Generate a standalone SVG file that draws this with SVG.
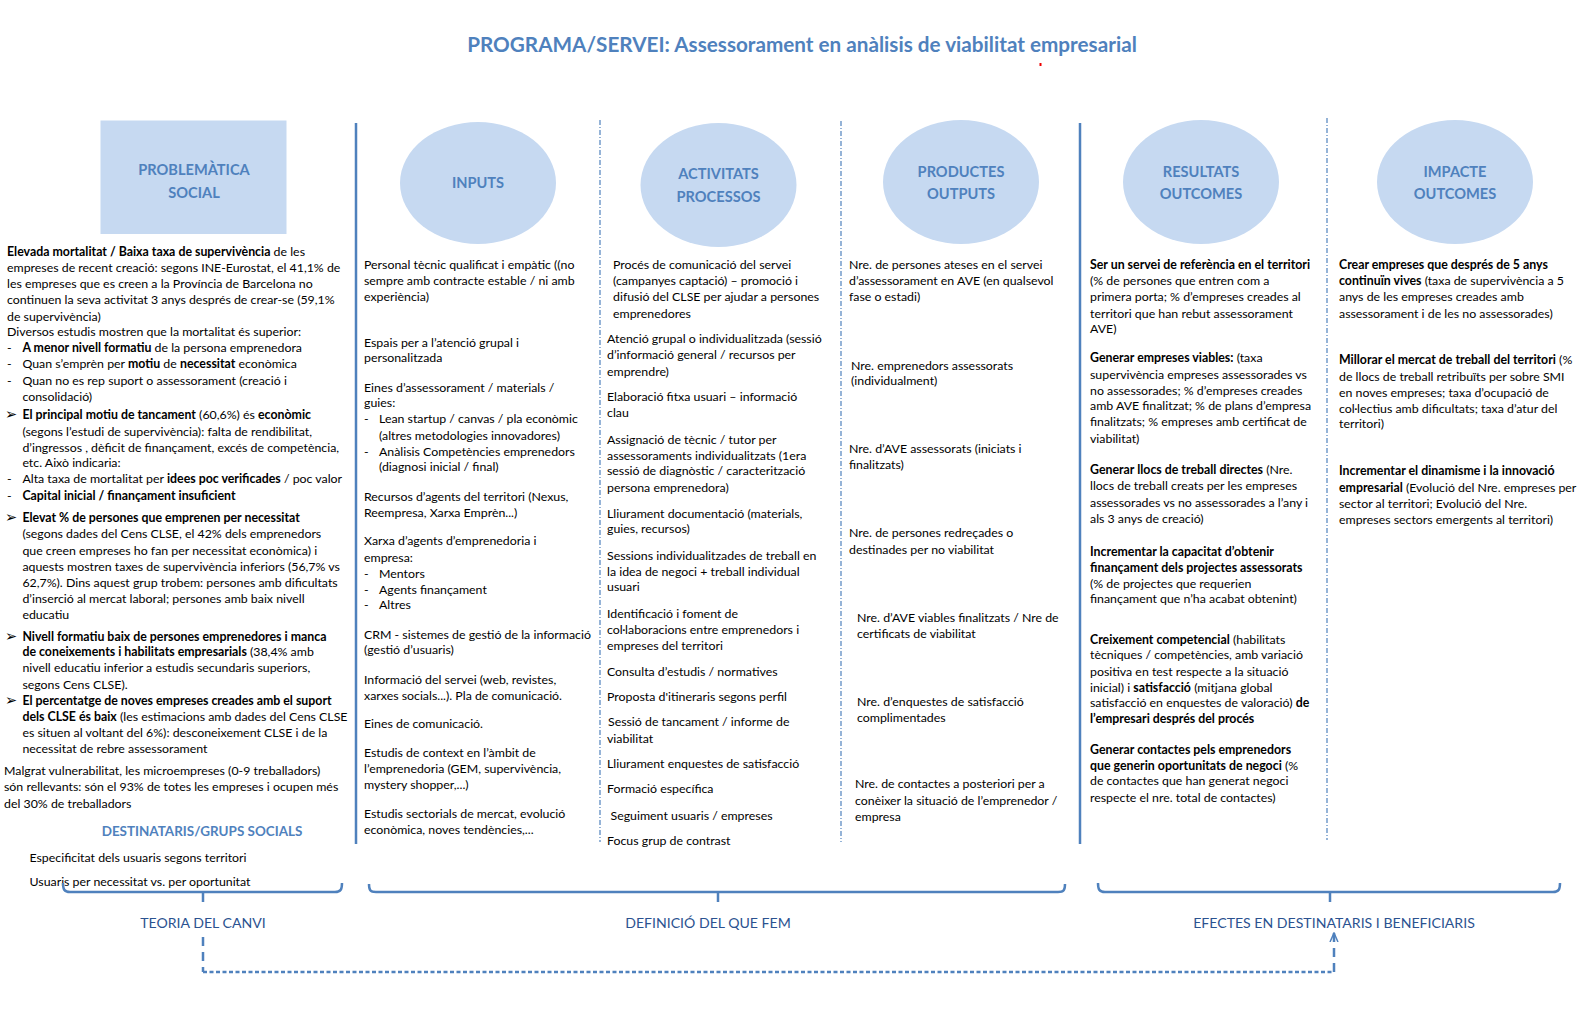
<svg xmlns="http://www.w3.org/2000/svg" width="1594" height="1009" viewBox="0 0 1594 1009">
<style>
.t{font-family:Lato,"Liberation Sans",sans-serif;font-size:12.35px;fill:#000}
.b{font-weight:bold}
.hd{font-family:Lato,"Liberation Sans",sans-serif;font-weight:bold;font-size:14.6px;fill:#4F81BD;text-anchor:middle}
.ttl{font-family:Lato,"Liberation Sans",sans-serif;font-weight:bold;font-size:20.7px;fill:#4F81BD;text-anchor:middle}
.lbl{font-family:Lato,"Liberation Sans",sans-serif;font-size:14.1px;fill:#2B5290;text-anchor:middle}
.shp{fill:#C6D9F1}
.sol{stroke:#4F81BD;stroke-width:2.5;fill:none}
.dsh{stroke:#4F81BD;stroke-width:1.2;stroke-dasharray:5 2 1 2;fill:none}
.brc{stroke:#4F81BD;stroke-width:2.5;fill:none}
.cn{stroke:#4F81BD;stroke-width:2.5;fill:none}
.sym{font-family:"DejaVu Sans",sans-serif;font-size:14.5px}
</style>
<defs>
<marker id="arr" viewBox="0 0 10 10" refX="9" refY="5" markerWidth="10" markerHeight="10" markerUnits="userSpaceOnUse" orient="auto">
<path d="M0,1 L9,5 L0,9" fill="none" stroke="#4F81BD" stroke-width="1.5"/>
</marker>
</defs>
<rect width="1594" height="1009" fill="#fff"/>
<text class="ttl" x="802" y="52">PROGRAMA/SERVEI: Assessorament en anàlisis de viabilitat empresarial</text>
<rect x="1039.5" y="63" width="2" height="3" fill="#e00"/>

<g id="problematica">
<rect class="shp" x="100.5" y="120.5" width="186" height="113.5"/>
<text class="hd"><tspan x="194" y="175">PROBLEMÀTICA</tspan><tspan x="194" y="198">SOCIAL</tspan></text>
<text class="t">
<tspan x="7" y="255.6"><tspan class="b">Elevada mortalitat / Baixa taxa de supervivència</tspan> de les</tspan>
<tspan x="7" y="271.9">empreses de recent creació: segons INE-Eurostat, el 41,1% de</tspan>
<tspan x="7" y="288.1">les empreses que es creen a la Província de Barcelona no</tspan>
<tspan x="7" y="304.4">continuen la seva activitat 3 anys després de crear-se (59,1%</tspan>
<tspan x="7" y="320.7">de supervivència)</tspan>
<tspan x="7" y="335.9">Diversos estudis mostren que la mortalitat és superior:</tspan>
<tspan x="7" y="352.2">-</tspan><tspan x="22.4" y="352.2"><tspan class="b">A menor nivell formatiu</tspan> de la persona emprenedora</tspan>
<tspan x="7" y="368.4">-</tspan><tspan x="22.4" y="368.4">Quan s’emprèn per <tspan class="b">motiu</tspan> de <tspan class="b">necessitat</tspan> econòmica</tspan>
<tspan x="7" y="384.7">-</tspan><tspan x="22.4" y="384.7">Quan no es rep suport o assessorament (creació i</tspan>
<tspan x="22.4" y="401">consolidació)</tspan>
<tspan x="5" y="419.3" class="sym">➢</tspan><tspan x="22.4" y="419.3"><tspan class="b">El principal motiu de tancament</tspan> (60,6%) és <tspan class="b">econòmic</tspan></tspan>
<tspan x="22.4" y="435.5">(segons l’estudi de supervivència): falta de rendibilitat,</tspan>
<tspan x="22.4" y="451.8">d’ingressos , dèficit de finançament, excés de competència,</tspan>
<tspan x="22.4" y="467.1">etc. Això indicaria:</tspan>
<tspan x="7" y="483.3">-</tspan><tspan x="22.4" y="483.3">Alta taxa de mortalitat per <tspan class="b">idees poc verificades</tspan> / poc valor</tspan>
<tspan x="7" y="499.6">-</tspan><tspan x="22.4" y="499.6" class="b">Capital inicial / finançament insuficient</tspan>
<tspan x="5" y="521.9" class="sym">➢</tspan><tspan x="22.4" y="521.9" class="b">Elevat % de persones que emprenen per necessitat</tspan>
<tspan x="22.4" y="538.2">(segons dades del Cens CLSE, el 42% dels emprenedors</tspan>
<tspan x="22.4" y="554.5">que creen empreses ho fan per necessitat econòmica) i</tspan>
<tspan x="22.4" y="570.7">aquests mostren taxes de supervivència inferiors (56,7% vs</tspan>
<tspan x="22.4" y="587">62,7%). Dins aquest grup trobem: persones amb dificultats</tspan>
<tspan x="22.4" y="603.3">d’inserció al mercat laboral; persones amb baix nivell</tspan>
<tspan x="22.4" y="618.5">educatiu</tspan>
<tspan x="5" y="640.9" class="sym">➢</tspan><tspan x="22.4" y="640.9" class="b">Nivell formatiu baix de persones emprenedores i manca</tspan>
<tspan x="22.4" y="656.1"><tspan class="b">de coneixements i habilitats empresarials</tspan> (38,4% amb</tspan>
<tspan x="22.4" y="672.4">nivell educatiu inferior a estudis secundaris superiors,</tspan>
<tspan x="22.4" y="688.7">segons Cens CLSE).</tspan>
<tspan x="5" y="704.9" class="sym">➢</tspan><tspan x="22.4" y="704.9" class="b">El percentatge de noves empreses creades amb el suport</tspan>
<tspan x="22.4" y="721.2"><tspan class="b">dels CLSE és baix</tspan> (les estimacions amb dades del Cens CLSE</tspan>
<tspan x="22.4" y="736.5">es situen al voltant del 6%): desconeixement CLSE i de la</tspan>
<tspan x="22.4" y="752.7">necessitat de rebre assessorament</tspan>
<tspan x="4" y="775.1">Malgrat vulnerabilitat, les microempreses (0-9 treballadors)</tspan>
<tspan x="4" y="791.3">són rellevants: són el 93% de totes les empreses i ocupen més</tspan>
<tspan x="4" y="807.6">del 30% de treballadors</tspan>
</text>
</g>

<g id="destinataris">
<text class="hd" style="font-size:13.45px" x="202" y="835.5">DESTINATARIS/GRUPS SOCIALS</text>
<text class="t"><tspan x="29.5" y="861.5">Especificitat dels usuaris segons territori</tspan><tspan x="29.5" y="885.9">Usuaris per necessitat vs. per oportunitat</tspan></text>
</g>

<g id="inputs">
<ellipse class="shp" cx="478" cy="183" rx="78" ry="61"/>
<text class="hd" x="478" y="188">INPUTS</text>
<text class="t">
<tspan x="364" y="268.8">Personal tècnic qualificat i empàtic ((no</tspan>
<tspan x="364" y="285.1">sempre amb contracte estable / ni amb</tspan>
<tspan x="364" y="301.3">experiència)</tspan>
<tspan x="364" y="347.1">Espais per a l’atenció grupal i</tspan>
<tspan x="364" y="362.3">personalitzada</tspan>
<tspan x="364" y="391.8">Eines d’assessorament / materials /</tspan>
<tspan x="364" y="407.1">guies:</tspan>
<tspan x="364" y="423.3">-</tspan><tspan x="379" y="423.3">Lean startup / canvas / pla econòmic</tspan>
<tspan x="379" y="439.6">(altres metodologies innovadores)</tspan>
<tspan x="364" y="455.9">-</tspan><tspan x="379" y="455.9">Anàlisis Competències emprenedors</tspan>
<tspan x="379" y="471.1">(diagnosi inicial / final)</tspan>
<tspan x="364" y="500.6">Recursos d’agents del territori (Nexus,</tspan>
<tspan x="364" y="516.9">Reempresa, Xarxa Emprèn...)</tspan>
<tspan x="364" y="545.3">Xarxa d’agents d’emprenedoria i</tspan>
<tspan x="364" y="561.6">empresa:</tspan>
<tspan x="364" y="577.9">-</tspan><tspan x="379" y="577.9">Mentors</tspan>
<tspan x="364" y="594.1">-</tspan><tspan x="379" y="594.1">Agents finançament</tspan>
<tspan x="364" y="609.4">-</tspan><tspan x="379" y="609.4">Altres</tspan>
<tspan x="364" y="638.9">CRM - sistemes de gestió de la informació</tspan>
<tspan x="364" y="654.1">(gestió d’usuaris)</tspan>
<tspan x="364" y="683.6">Informació del servei (web, revistes,</tspan>
<tspan x="364" y="699.9">xarxes socials...). Pla de comunicació.</tspan>
<tspan x="364" y="728.3">Eines de comunicació.</tspan>
<tspan x="364" y="756.8">Estudis de context en l’àmbit de</tspan>
<tspan x="364" y="773">l’emprenedoria (GEM, supervivència,</tspan>
<tspan x="364" y="789.3">mystery shopper,...)</tspan>
<tspan x="364" y="817.8">Estudis sectorials de mercat, evolució</tspan>
<tspan x="364" y="834">econòmica, noves tendències,...</tspan>
</text>
</g>

<g id="activitats">
<ellipse class="shp" cx="718.5" cy="185" rx="78" ry="62"/>
<text class="hd"><tspan x="718.5" y="179">ACTIVITATS</tspan><tspan x="718.5" y="202">PROCESSOS</tspan></text>
<text class="t">
<tspan x="613" y="268.8">Procés de comunicació del servei</tspan>
<tspan x="613" y="285.1">(campanyes captació) – promoció i</tspan>
<tspan x="613" y="301.3">difusió del CLSE per ajudar a persones</tspan>
<tspan x="613" y="317.6">emprenedores</tspan>
<tspan x="607" y="343">Atenció grupal o individualitzada (sessió</tspan>
<tspan x="607" y="359.3">d’informació general / recursos per</tspan>
<tspan x="607" y="375.6">emprendre)</tspan>
<tspan x="607" y="401">Elaboració fitxa usuari – informació</tspan>
<tspan x="607" y="417.2">clau</tspan>
<tspan x="607" y="443.7">Assignació de tècnic / tutor per</tspan>
<tspan x="607" y="459.9">assessoraments individualitzats (1era</tspan>
<tspan x="607" y="475.2">sessió de diagnòstic / caracterització</tspan>
<tspan x="607" y="491.5">persona emprenedora)</tspan>
<tspan x="607" y="517.9">Lliurament documentació (materials,</tspan>
<tspan x="607" y="533.1">guies, recursos)</tspan>
<tspan x="607" y="559.6">Sessions individualitzades de treball en</tspan>
<tspan x="607" y="575.8">la idea de negoci + treball individual</tspan>
<tspan x="607" y="591.1">usuari</tspan>
<tspan x="607" y="617.5">Identificació i foment de</tspan>
<tspan x="607" y="633.8">col·laboracions entre emprenedors i</tspan>
<tspan x="607" y="650">empreses del territori</tspan>
<tspan x="607" y="675.5">Consulta d’estudis / normatives</tspan>
<tspan x="607" y="700.9">Proposta d'itineraris segons perfil</tspan>
<tspan x="608" y="726.3">Sessió de tancament / informe de</tspan>
<tspan x="607" y="742.6">viabilitat</tspan>
<tspan x="607" y="768">Lliurament enquestes de satisfacció</tspan>
<tspan x="607" y="793.4">Formació específica</tspan>
<tspan x="610.5" y="819.8">Seguiment usuaris / empreses</tspan>
<tspan x="607" y="845.2">Focus grup de contrast</tspan>
</text>
</g>

<g id="productes">
<ellipse class="shp" cx="961" cy="182" rx="78" ry="62"/>
<text class="hd"><tspan x="961" y="177">PRODUCTES</tspan><tspan x="961" y="199">OUTPUTS</tspan></text>
<text class="t">
<tspan x="849" y="268.8">Nre. de persones ateses en el servei</tspan>
<tspan x="849" y="285.1">d’assessorament en AVE (en qualsevol</tspan>
<tspan x="849" y="301.3">fase o estadi)</tspan>
<tspan x="851" y="369.5">Nre. emprenedors assessorats</tspan>
<tspan x="851" y="384.7">(individualment)</tspan>
<tspan x="849" y="452.8">Nre. d’AVE assessorats (iniciats i</tspan>
<tspan x="849" y="469.1">finalitzats)</tspan>
<tspan x="849" y="537.2">Nre. de persones redreçades o</tspan>
<tspan x="849" y="553.5">destinades per no viabilitat</tspan>
<tspan x="857" y="621.6">Nre. d’AVE viables finalitzats / Nre de</tspan>
<tspan x="857" y="637.8">certificats de viabilitat</tspan>
<tspan x="857" y="706">Nre. d’enquestes de satisfacció</tspan>
<tspan x="857" y="722.2">complimentades</tspan>
<tspan x="855" y="788.3">Nre. de contactes a posteriori per a</tspan>
<tspan x="855" y="804.6">conèixer la situació de l’emprenedor /</tspan>
<tspan x="855" y="820.8">empresa</tspan>
</text>
</g>

<g id="resultats">
<ellipse class="shp" cx="1201" cy="182" rx="78" ry="62"/>
<text class="hd"><tspan x="1201" y="177">RESULTATS</tspan><tspan x="1201" y="199">OUTCOMES</tspan></text>
<text class="t">
<tspan x="1090" y="268.8" class="b">Ser un servei de referència en el territori</tspan>
<tspan x="1090" y="285.1">(% de persones que entren com a</tspan>
<tspan x="1090" y="301.3">primera porta; % d’empreses creades al</tspan>
<tspan x="1090" y="317.6">territori que han rebut assessorament</tspan>
<tspan x="1090" y="332.9">AVE)</tspan>
<tspan x="1090" y="362.3"><tspan class="b">Generar empreses viables:</tspan> (taxa</tspan>
<tspan x="1090" y="378.6">supervivència empreses assessorades vs</tspan>
<tspan x="1090" y="394.9">no assessorades; % d’empreses creades</tspan>
<tspan x="1090" y="410.1">amb AVE finalitzat; % de plans d’empresa</tspan>
<tspan x="1090" y="426.4">finalitzats; % empreses amb certificat de</tspan>
<tspan x="1090" y="442.7">viabilitat)</tspan>
<tspan x="1090" y="474.2"><tspan class="b">Generar llocs de treball directes</tspan> (Nre.</tspan>
<tspan x="1090" y="490.4">llocs de treball creats per les empreses</tspan>
<tspan x="1090" y="506.7">assessorades vs no assessorades a l’any i</tspan>
<tspan x="1090" y="523">als 3 anys de creació)</tspan>
<tspan x="1090" y="555.5" class="b">Incrementar la capacitat d’obtenir</tspan>
<tspan x="1090" y="571.8" class="b">finançament dels projectes assessorats</tspan>
<tspan x="1090" y="588">(% de projectes que requerien</tspan>
<tspan x="1090" y="603.3">finançament que n’ha acabat obtenint)</tspan>
<tspan x="1090" y="643.9"><tspan class="b">Creixement competencial</tspan> (habilitats</tspan>
<tspan x="1090" y="659.2">tècniques / competències, amb variació</tspan>
<tspan x="1090" y="675.5">positiva en test respecte a la situació</tspan>
<tspan x="1090" y="691.7">inicial) i <tspan class="b">satisfacció</tspan> (mitjana global</tspan>
<tspan x="1090" y="707">satisfacció en enquestes de valoració) <tspan class="b">de</tspan></tspan>
<tspan x="1090" y="723.2" class="b">l’empresari després del procés</tspan>
<tspan x="1090" y="753.7" class="b">Generar contactes pels emprenedors</tspan>
<tspan x="1090" y="770"><tspan class="b">que generin oportunitats de negoci</tspan> (%</tspan>
<tspan x="1090" y="785.2">de contactes que han generat negoci</tspan>
<tspan x="1090" y="801.5">respecte el nre. total de contactes)</tspan>
</text>
</g>

<g id="impacte">
<ellipse class="shp" cx="1455" cy="182" rx="78" ry="62"/>
<text class="hd"><tspan x="1455" y="177">IMPACTE</tspan><tspan x="1455" y="199">OUTCOMES</tspan></text>
<text class="t">
<tspan x="1339" y="268.8" class="b">Crear empreses que després de 5 anys</tspan>
<tspan x="1339" y="285.1"><tspan class="b">continuïn vives</tspan> (taxa de supervivència a 5</tspan>
<tspan x="1339" y="301.3">anys de les empreses creades amb</tspan>
<tspan x="1339" y="317.6">assessorament i de les no assessorades)</tspan>
<tspan x="1339" y="364.4"><tspan class="b">Millorar el mercat de treball del territori</tspan> (%</tspan>
<tspan x="1339" y="380.6">de llocs de treball retribuïts per sobre SMI</tspan>
<tspan x="1339" y="396.9">en noves empreses; taxa d’ocupació de</tspan>
<tspan x="1339" y="413.2">col·lectius amb dificultats; taxa d’atur del</tspan>
<tspan x="1339" y="428.4">territori)</tspan>
<tspan x="1339" y="475.2" class="b">Incrementar el dinamisme i la innovació</tspan>
<tspan x="1339" y="491.5"><tspan class="b">empresarial</tspan> (Evolució del Nre. empreses per</tspan>
<tspan x="1339" y="507.7">sector al territori; Evolució del Nre.</tspan>
<tspan x="1339" y="524">empreses sectors emergents al territori)</tspan>
</text>
</g>

<g id="separators">
<line class="sol" x1="356" y1="123" x2="356" y2="844"/>
<line class="dsh" x1="600" y1="120" x2="600" y2="842"/>
<line class="dsh" x1="841" y1="121" x2="841" y2="842"/>
<line class="sol" x1="1080" y1="123" x2="1080" y2="844"/>
<line class="dsh" x1="1327" y1="118" x2="1327" y2="840"/>
</g>

<g id="teoria">
<path class="brc" d="M63,883 C63,889 64,892 70,892 L335,892 C341,892 342,889 342,883 M203,892 V902"/>
<text class="lbl" x="203" y="928">TEORIA DEL CANVI</text>
</g>
<g id="definicio">
<path class="brc" d="M369,884 C369,890 370,892 376,892 L1058,892 C1064,892 1065,890 1065,884 M718,892 V902"/>
<text class="lbl" x="708" y="928">DEFINICIÓ DEL QUE FEM</text>
</g>
<g id="efectes">
<path class="brc" d="M1098,883 C1098,889 1099,892 1105,892 L1553,892 C1559,892 1560,889 1560,883 M1330,892 V902"/>
<text class="lbl" x="1334" y="928">EFECTES EN DESTINATARIS I BENEFICIARIS</text>
</g>

<g id="connectors">
<path class="cn" d="M203,937 V972" stroke-dasharray="9 6"/>
<path class="cn" d="M203,972 H1334" stroke-dasharray="4 2.5"/>
<path class="cn" d="M1334,972 V933" stroke-dasharray="9 6" marker-end="url(#arr)"/>
</g>
</svg>
